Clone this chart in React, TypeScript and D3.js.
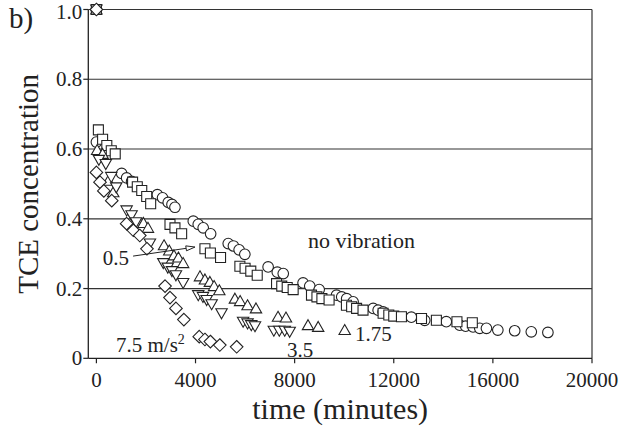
import React from "react";
import * as d3 from "d3";

const W = 624;
const H = 428;

// no vibration (circles)
const noVibT = [0, 0, 1020, 1220, 1420, 2460, 2670, 2900, 3050, 3170, 3910, 4110, 4310, 4610, 5320, 5530, 5760, 5990, 6930, 7300, 7540, 8340, 8610, 8990, 9690, 9900, 10100, 10360, 11170, 11370, 11570, 12710, 13250, 14120, 14660, 14900, 15200, 15470, 15740, 16200, 16880, 17550, 18220];
const noVibC = [1.0, 0.62, 0.53, 0.517, 0.507, 0.469, 0.46, 0.447, 0.441, 0.433, 0.393, 0.384, 0.374, 0.357, 0.329, 0.322, 0.311, 0.298, 0.262, 0.247, 0.243, 0.216, 0.207, 0.197, 0.181, 0.176, 0.171, 0.162, 0.143, 0.138, 0.133, 0.118, 0.109, 0.105, 0.095, 0.092, 0.09, 0.086, 0.086, 0.081, 0.079, 0.076, 0.074];

// 0.5 m/s2 (squares)
const v05T = [0, 80, 250, 420, 600, 760, 1460, 1650, 1830, 2030, 2190, 2970, 3170, 3440, 4380, 4600, 5010, 5790, 6000, 6230, 6490, 7270, 7480, 7700, 7940, 8680, 8900, 9100, 9390, 10090, 10300, 10500, 10760, 11570, 11800, 12000, 12310, 13120, 13720, 14550, 15170];
const v05C = [1.0, 0.655, 0.628, 0.61, 0.595, 0.586, 0.505, 0.492, 0.481, 0.464, 0.443, 0.384, 0.374, 0.357, 0.314, 0.302, 0.289, 0.264, 0.258, 0.25, 0.238, 0.214, 0.207, 0.203, 0.197, 0.181, 0.176, 0.171, 0.167, 0.152, 0.148, 0.143, 0.138, 0.129, 0.124, 0.121, 0.119, 0.114, 0.109, 0.105, 0.102];

// 1.75 m/s2 (up triangles)
const v175T = [0, 30, 250, 480, 680, 1900, 2080, 2730, 2940, 3130, 3310, 3500, 4180, 4380, 4580, 4750, 4960, 5590, 5800, 6100, 6440, 7330, 7650, 8540, 8950, 10020];
const v175C = [1.0, 0.597, 0.586, 0.509, 0.476, 0.388, 0.374, 0.324, 0.309, 0.295, 0.289, 0.273, 0.235, 0.226, 0.219, 0.207, 0.195, 0.171, 0.164, 0.152, 0.143, 0.119, 0.117, 0.095, 0.09, 0.081];

// 3.5 m/s2 (down triangles)
const v35T = [0, 100, 380, 600, 800, 1220, 1420, 1600, 2160, 2700, 2880, 3050, 3210, 3500, 4110, 4300, 4450, 4650, 5050, 5920, 6100, 6250, 6400, 7160, 7380, 7600, 7800];
const v35C = [1.0, 0.569, 0.557, 0.52, 0.49, 0.424, 0.41, 0.39, 0.329, 0.273, 0.26, 0.25, 0.238, 0.216, 0.181, 0.176, 0.167, 0.155, 0.129, 0.105, 0.1, 0.095, 0.092, 0.079, 0.079, 0.079, 0.076];

// 7.5 m/s2 (diamonds)
const v75T = [0, 0, 145, 300, 620, 1220, 1490, 1750, 2040, 2770, 2970, 3210, 3530, 4150, 4380, 4600, 4980, 5660];
const v75C = [1.0, 0.533, 0.505, 0.48, 0.452, 0.386, 0.367, 0.352, 0.314, 0.207, 0.174, 0.143, 0.111, 0.062, 0.054, 0.048, 0.038, 0.033];

const xTicks = [0, 4000, 8000, 12000, 16000, 20000];
const yTicks = [0, 0.2, 0.4, 0.6, 0.8, 1.0];
const gridVals = [0.2, 0.4, 0.6, 0.8, 1.0];

const FONT = "'Liberation Serif', 'Times New Roman', serif";

type Shape = "circle" | "square" | "up" | "down" | "diamond";

function shapePath(shape: Shape, cx: number, cy: number): string {
  const r = 5.3;
  switch (shape) {
    case "square":
      return `M${cx - 5},${cy - 5}h10v10h-10Z`;
    case "up":
      return `M${cx},${cy - 5.5}L${cx + 5.7},${cy + 4.5}L${cx - 5.7},${cy + 4.5}Z`;
    case "down":
      return `M${cx},${cy + 5.5}L${cx + 5.7},${cy - 4.5}L${cx - 5.7},${cy - 4.5}Z`;
    case "diamond":
      return `M${cx},${cy - 6.3}L${cx + 6.3},${cy}L${cx},${cy + 6.3}L${cx - 6.3},${cy}Z`;
    default:
      return `M${cx + r},${cy}A${r},${r} 0 1,1 ${cx - r},${cy}A${r},${r} 0 1,1 ${cx + r},${cy}Z`;
  }
}

export default function App() {
  const x0 = 88.3;
  const x1 = 592;
  const yTop = 9.5;
  const yBot = 358.3;
  const x = d3.scaleLinear().domain([0, 20000]).range([96.4, x1]);
  const y = d3.scaleLinear().domain([0, 1]).range([yBot, yTop]);

  const series: { t: number[]; c: number[]; shape: Shape }[] = [
    { t: noVibT, c: noVibC, shape: "circle" },
    { t: v05T, c: v05C, shape: "square" },
    { t: v175T, c: v175C, shape: "up" },
    { t: v35T, c: v35C, shape: "down" },
    { t: v75T, c: v75C, shape: "diamond" },
  ];

  // arrow for "0.5" label
  const ax0 = x(1480), ay0 = y(0.293);
  const ax1 = x(3980), ay1 = y(0.319);
  const ang = Math.atan2(ay1 - ay0, ax1 - ax0);
  const hl = 9, hw = 2.5;
  const bx = ax1 - hl * Math.cos(ang), by = ay1 - hl * Math.sin(ang);
  const px = -Math.sin(ang) * hw, py = Math.cos(ang) * hw;

  return (
    <svg width={W} height={H} style={{ position: "absolute", left: 0, top: 0, background: "#fff" }} fontFamily={FONT}>
      <rect x={0} y={0} width={W} height={H} fill="#fff" />
      {/* grid lines & frame */}
      {gridVals.map((v) => (
        <line key={v} x1={x0} x2={x1} y1={y(v)} y2={y(v)} stroke="#333" strokeWidth={1.2} />
      ))}
      <line x1={x1} x2={x1} y1={y(1)} y2={yBot} stroke="#333" strokeWidth={1.2} />
      {/* axes */}
      <line x1={x0} x2={x0} y1={y(1)} y2={yBot} stroke="#222" strokeWidth={1.3} />
      <line x1={x0} x2={x1} y1={yBot} y2={yBot} stroke="#222" strokeWidth={1.3} />
      {yTicks.map((v) => (
        <g key={v}>
          <line x1={x0 - 5} x2={x0} y1={y(v)} y2={y(v)} stroke="#222" strokeWidth={1.2} />
          <text x={x0 - 6} y={Math.max(y(v) + 7, 19)} textAnchor="end" fontSize={21} fill="#222">
            {v === 0 ? "0" : v.toFixed(1)}
          </text>
        </g>
      ))}
      {xTicks.map((v) => (
        <g key={v}>
          <line x1={x(v)} x2={x(v)} y1={yBot} y2={yBot + 5} stroke="#222" strokeWidth={1.2} />
          <text x={x(v)} y={387} textAnchor="middle" fontSize={21} fill="#222">
            {v}
          </text>
        </g>
      ))}
      {/* data */}
      {series.map((s, si) => (
        <g key={si}>
          {s.t.map((t, i) => (
            <path key={i} d={shapePath(s.shape, x(t), y(s.c[i]))} fill="#fff" stroke="#222" strokeWidth={1.1} />
          ))}
        </g>
      ))}
      {/* annotations */}
      <text x={308} y={248} fontSize={22} fill="#222">no vibration</text>
      <text x={129} y={265} textAnchor="end" fontSize={21} fill="#222">0.5</text>
      <line x1={ax0} y1={ay0} x2={bx} y2={by} stroke="#222" strokeWidth={1} />
      <path d={`M${ax1},${ay1}L${bx + px},${by + py}L${bx - px},${by - py}Z`} fill="#fff" stroke="#222" strokeWidth={1} />
      <text x={116} y={352} fontSize={21} fill="#222">
        7.5 m/s<tspan dy={-8} fontSize={14}>2</tspan>
      </text>
      <text x={287} y={357} fontSize={21} fill="#222">3.5</text>
      <text x={355} y={341} fontSize={21} fill="#222">1.75</text>
      {/* titles */}
      <text x={9} y={28} fontSize={29} fill="#222">b)</text>
      <text transform={`translate(38,${(yTop + yBot) / 2}) rotate(-90)`} textAnchor="middle" fontSize={29} fill="#222">
        TCE concentration
      </text>
      <text x={(x0 + x1) / 2} y={419} textAnchor="middle" fontSize={30} fill="#222">
        time (minutes)
      </text>
    </svg>
  );
}
